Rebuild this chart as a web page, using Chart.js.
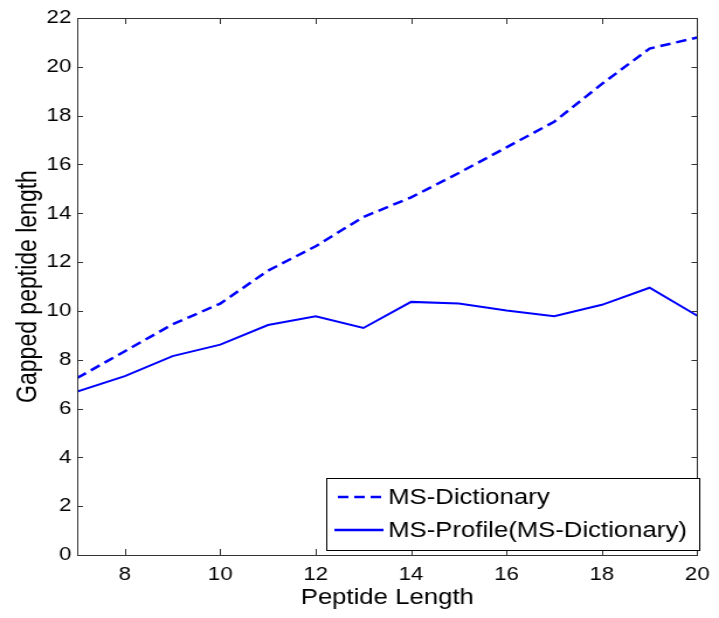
<!DOCTYPE html>
<html>
<head>
<meta charset="utf-8">
<script src="https://cdn.jsdelivr.net/npm/chart.js@4"></script>
<style>
  html, body { margin: 0; padding: 0; background: #fff; }
  #wrap { width: 719px; height: 618px; }
  /* figure is drawn a bit narrower and stretched out to the page width */
  #lenChart { width: 719px; height: 618px; display: block; }
</style>
</head>
<body>
<div id="wrap"><canvas id="lenChart" width="615" height="618" style="width:719px;height:618px"></canvas></div>
<script>
// peptide lengths on the x axis
const peptideLen = [7, 8, 9, 10, 11, 12, 13, 14, 15, 16, 17, 18, 19, 20];
// average gapped peptide length per method
const msDictionary = [7.25, 8.35, 9.45, 10.3, 11.65, 12.65, 13.85, 14.65, 15.65, 16.7, 17.75, 19.3, 20.75, 21.2];
const msProfile = [6.7, 7.33, 8.15, 8.62, 9.42, 9.78, 9.3, 10.37, 10.3, 10.02, 9.78, 10.25, 10.95, 9.8];

const xTicks = [8, 10, 12, 14, 16, 18, 20];
const yTicks = [0, 2, 4, 6, 8, 10, 12, 14, 16, 18, 20, 22];

const seriesNames = ['MS-Dictionary', 'MS-Profile(MS-Dictionary)'];
const lineBlue = '#0000ff';
const fontName = '"Liberation Sans", Arial, sans-serif';

// frame + inward ticks on all four sides, like a matlab axes box
const boxPlugin = {
    id: 'boxTicks',
    afterDatasetsDraw(chart) {
        const { ctx, chartArea: a, scales } = chart;
        ctx.save();
        ctx.strokeStyle = '#333';
        ctx.lineWidth = 1;
        ctx.beginPath();
        xTicks.forEach(v => {
            const px = Math.round(scales.x.getPixelForValue(v)) + 0.5;
            ctx.moveTo(px, a.bottom); ctx.lineTo(px, a.bottom - 6);
            ctx.moveTo(px, a.top); ctx.lineTo(px, a.top + 6);
        });
        yTicks.forEach(v => {
            const py = Math.round(scales.y.getPixelForValue(v)) + 0.5;
            ctx.moveTo(a.left, py); ctx.lineTo(a.left + 5, py);
            ctx.moveTo(a.right, py); ctx.lineTo(a.right - 5, py);
        });
        ctx.stroke();
        ctx.strokeRect(Math.round(a.left) + 0.5, Math.round(a.top) + 0.5,
            Math.round(a.right - a.left), Math.round(a.bottom - a.top));

        // legend box in the lower right corner
        const lx = 279, ly = 478, lw = 319, lh = 72;
        ctx.fillStyle = '#fff';
        ctx.fillRect(lx, ly, lw, lh);
        ctx.strokeStyle = '#000';
        ctx.strokeRect(lx + 0.5, ly + 0.5, lw, lh);
        ctx.strokeStyle = lineBlue;
        ctx.lineWidth = 2.5;
        ctx.setLineDash([9, 5]);
        ctx.beginPath(); ctx.moveTo(289, 497); ctx.lineTo(328, 497); ctx.stroke();
        ctx.setLineDash([]);
        ctx.beginPath(); ctx.moveTo(286, 530); ctx.lineTo(328, 530); ctx.stroke();
        ctx.fillStyle = '#000';
        ctx.font = '22px ' + fontName;
        ctx.textBaseline = 'middle';
        ctx.fillText(seriesNames[0], 332, 498);
        ctx.fillText(seriesNames[1], 332, 531);
        ctx.restore();
    }
};

const ctx = document.getElementById('lenChart').getContext('2d');
new Chart(ctx, {
    type: 'line',
    data: {
        datasets: [{
            label: seriesNames[0],
            data: peptideLen.map((x, i) => ({ x: x, y: msDictionary[i] })),
            borderColor: lineBlue,
            borderWidth: 2.5,
            borderDash: [9, 5],
            pointRadius: 0,
            tension: 0
        }, {
            label: seriesNames[1],
            data: peptideLen.map((x, i) => ({ x: x, y: msProfile[i] })),
            borderColor: lineBlue,
            borderWidth: 2,
            pointRadius: 0,
            tension: 0
        }]
    },
    plugins: [boxPlugin],
    options: {
        responsive: false,
        animation: false,
        layout: { padding: { top: 18, right: 13, left: 0, bottom: 0 } },
        plugins: {
            legend: { display: false },
            tooltip: { enabled: false }
        },
        scales: {
            x: {
                type: 'linear',
                min: 7,
                max: 20,
                afterBuildTicks: s => { s.ticks = xTicks.map(v => ({ value: v })); },
                afterFit: s => { s.height = 63; },
                grid: { display: false, drawTicks: false },
                border: { display: false },
                ticks: { color: '#000', font: { family: fontName, size: 19 }, padding: 8 },
                title: { display: true, text: 'Peptide Length', color: '#000', font: { family: fontName, size: 22 }, padding: { top: 0, bottom: 7 } }
            },
            y: {
                type: 'linear',
                min: 0,
                max: 22,
                afterBuildTicks: s => { s.ticks = yTicks.map(v => ({ value: v })); },
                afterFit: s => { s.width = 66; },
                grid: { display: false, drawTicks: false },
                border: { display: false },
                ticks: { color: '#000', font: { family: fontName, size: 19 }, padding: 5 },
                title: { display: true, text: 'Gapped peptide length', color: '#000', font: { family: fontName, size: 23 }, padding: { top: 11, bottom: 0 } }
            }
        }
    }
});
</script>
</body>
</html>
